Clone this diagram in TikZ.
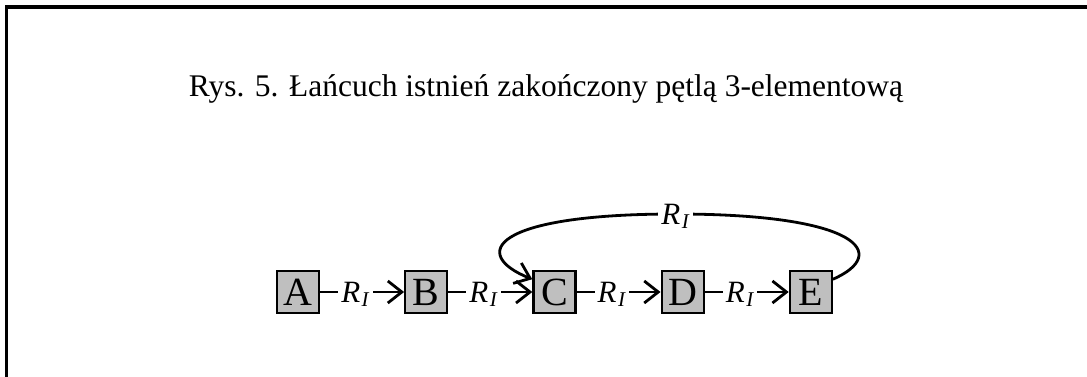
\documentclass[tikz,border=0pt]{standalone}
\usepackage{fontspec}
\setmainfont{Liberation Serif}
\usetikzlibrary{arrows.meta,positioning,shadows}

\newcommand{\relI}{\textit{R}\kern1.5pt\raisebox{-4pt}{\fontsize{21}{21}\selectfont\textit{I}}}

\begin{document}
\begin{tikzpicture}[
    x=1pt, y=1pt,
    node distance=84pt,
    box/.style={rectangle, draw=black, line width=2.2pt, fill=black!25, minimum size=42pt, inner sep=0pt, font=\fontsize{40}{40}\selectfont, drop shadow={shadow xshift=1.2pt, shadow yshift=-1.2pt, fill=black, opacity=1}},
    lbl/.style={fill=white, inner xsep=3pt, inner ysep=1pt, anchor=base, yshift=-10.5pt, font=\fontsize{31}{31}\selectfont},
    arrow/.style={-{Straight Barb[length=14pt, width=22pt]}, line width=2.8pt}
]

    \clip (0,0) rectangle (1087,376);
    \draw[line width=3pt] (6,-20) rectangle (1110,369);

    % Title
    \node[font=\fontsize{31.5}{31.5}\selectfont, anchor=base] (title) at (546,280) {Rys. 5. Łańcuch istnień zakończony pętlą 3-elementową};

    % Nodes
    \node[box] (A) at (298,84) {A};
    \node[box, right=of A] (B) {B};
    \node[box, right=of B] (C) {C};
    \node[box, right=of C] (D) {D};
    \node[box, right=of D] (E) {E};
    \coordinate (top) at (675.5,162);

    % Arrows
    \draw[arrow] (A) -- node[lbl, pos=0.42] {\relI} (B);
    \draw[arrow] (B) -- node[lbl, pos=0.42] {\relI} (C);
    \draw[arrow] (C) -- node[lbl, pos=0.42] {\relI} (D);
    \draw[arrow] (D) -- node[lbl, pos=0.42] {\relI} (E);
    \draw[arrow] (E.30) .. controls +(57,25) and +(185,0) .. (top) node[lbl] {\relI}
        .. controls +(-185,0) and +(-62,25) .. (C.150);

\end{tikzpicture}
\end{document}
